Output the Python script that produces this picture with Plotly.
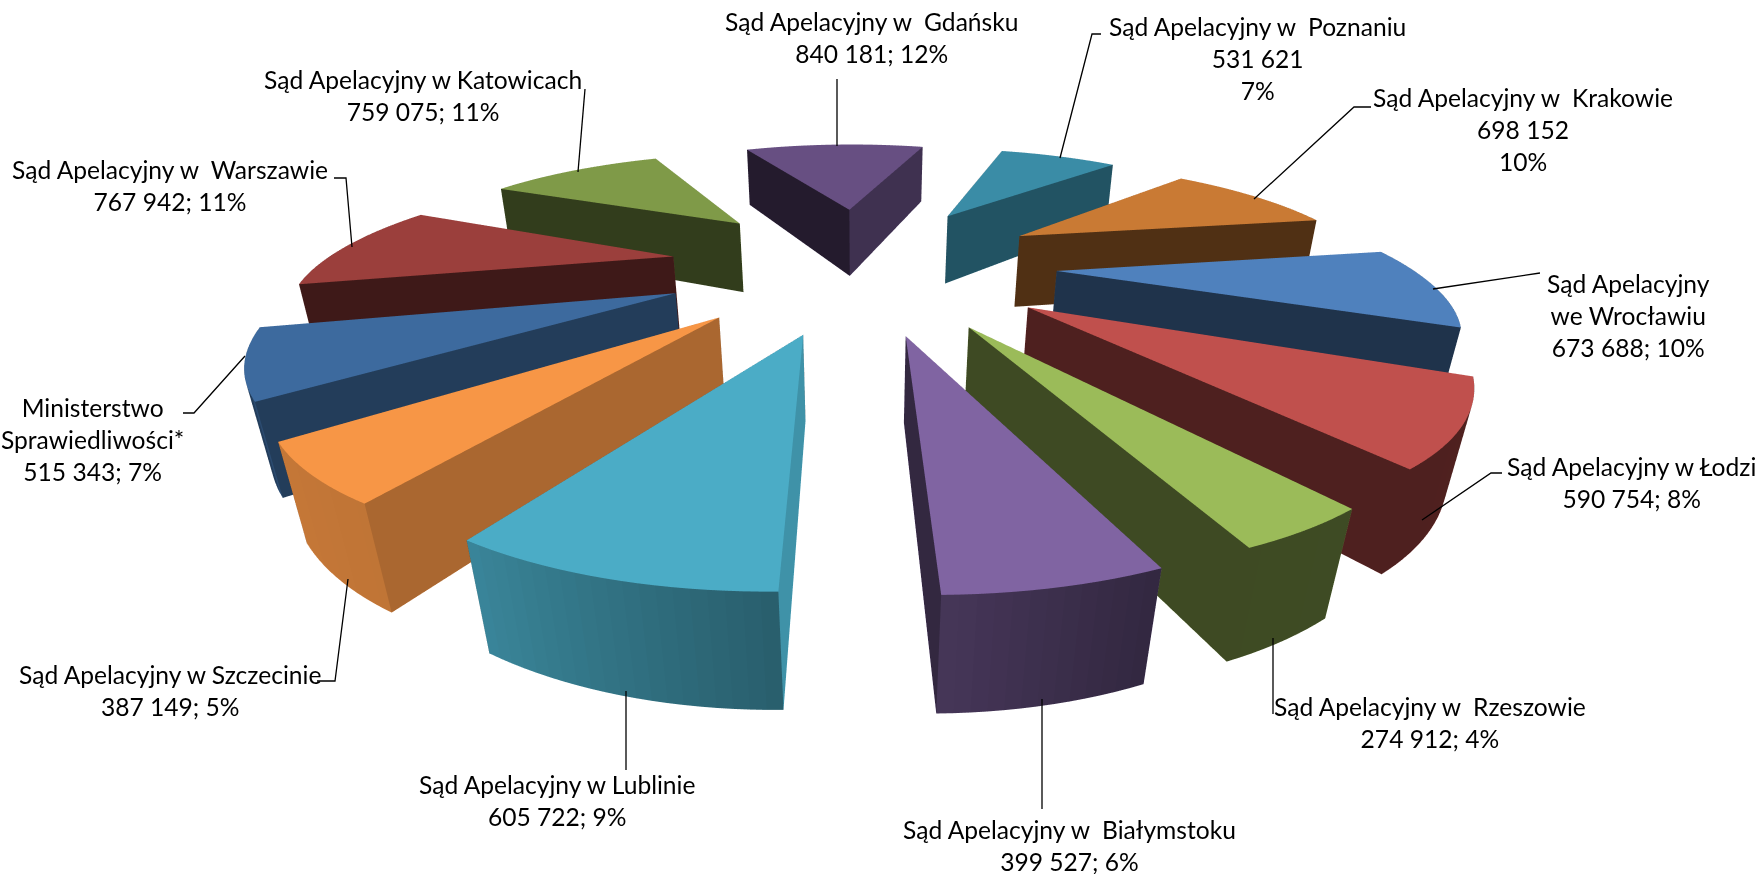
import math
import numpy as np
import plotly.graph_objects as go

names = ["Sąd Apelacyjny w  Gdańsku", "Sąd Apelacyjny w  Poznaniu", "Sąd Apelacyjny w  Krakowie",
         "Sąd Apelacyjny<br>we Wrocławiu", "Sąd Apelacyjny w Łodzi", "Sąd Apelacyjny w  Rzeszowie",
         "Sąd Apelacyjny w  Białymstoku", "Sąd Apelacyjny w Lublinie", "Sąd Apelacyjny w Szczecinie",
         "Ministerstwo<br>Sprawiedliwości*", "Sąd Apelacyjny w  Warszawie", "Sąd Apelacyjny w Katowicach"]
values = [840181, 531621, 698152, 673688, 590754, 274912, 399527, 605722, 387149, 515343, 767942, 759075]
value_text = ["840 181; 12%", "531 621<br>7%", "698 152<br>10%", "673 688; 10%", "590 754; 8%", "274 912; 4%",
              "399 527; 6%", "605 722; 9%", "387 149; 5%", "515 343; 7%", "767 942; 11%", "759 075; 11%"]
colors = ["#674f82", "#3a8ca6", "#c97a34", "#4f81bd", "#c0504d", "#9bbb59",
          "#8064a2", "#4bacc6", "#f79646", "#3d6a9e", "#9b3f3c", "#7f9a48"]
label_xy = [(871, 38), (1257, 58), (1523, 130), (1628, 315), (1631, 482), (1430, 722),
            (1069, 845), (557, 800), (170, 690), (92, 439), (170, 186), (423, 96)]
leaders = [[(837, 79), (837, 146)], [(1101, 34), (1092, 34), (1060, 158)], [(1371, 107), (1354, 107), (1254, 199)],
           [(1540, 273), (1433, 289)], [(1502, 473), (1491, 473), (1422, 520)], [(1273, 638), (1273, 714)],
           [(1042, 699), (1042, 809)], [(626, 691), (626, 770)], [(317, 681), (335, 681), (348, 579)],
           [(183, 413), (194, 413), (245, 356)], [(334, 178), (346, 178), (352, 247)], [(585, 89), (578, 172)]]

START = -25.0
EXPLODE = 0.55
THICK = 0.22
RAD_A = [0, 90, 108, 121, 135, 140, 167, 206, 235, 245, 249, 270, 360]
RAD_V = [.6, .85, .62, .69, .6, .58, .4, .4, .41, .35, .4, .4, .6]
OUT_A = [0, 80, 115, 160, 180, 211, 231, 232, 257, 296, 360]
OUT_V = [.6, .4, .42, .4, .55, .78, .8, .58, .58, .5, .6]


def shade(hexc, f):
    r, g, b = (int(hexc[i:i + 2], 16) for i in (1, 3, 5))
    return f"rgb({int(r * f)},{int(g * f)},{int(b * f)})"


def wedge(a0, a1, col):
    mid = math.radians((a0 + a1) / 2)
    cx, cy = EXPLODE * math.sin(mid), EXPLODE * math.cos(mid)
    n = max(4, int((a1 - a0) / 1.5))
    ang = np.linspace(a0, a1, n + 1)
    xs, ys, zs, I, J, K, fc = [cx, cx], [cy, cy], [0, -THICK], [], [], [], []
    for a in ang:
        xs += [cx + math.sin(math.radians(a))] * 2
        ys += [cy + math.cos(math.radians(a))] * 2
        zs += [0, -THICK]
    for s in range(n):
        t0, b0, t1, b1 = 2 + 2 * s, 3 + 2 * s, 4 + 2 * s, 5 + 2 * s
        I += [0, 1]; J += [t0, b0]; K += [t1, b1]; fc += [col, col]
        c = shade(col, float(np.interp(((ang[s] + ang[s + 1]) / 2) % 360, OUT_A, OUT_V)))
        I += [t0, t1]; J += [b0, b0]; K += [t1, b1]; fc += [c, c]
    ca = shade(col, float(np.interp((a0 - 90) % 360, RAD_A, RAD_V)))
    cb = shade(col, float(np.interp((a1 + 90) % 360, RAD_A, RAD_V)))
    e0, e1 = 2, 2 + 2 * n
    I += [0, 1, 0, 1]; J += [1, e0, 1, e1]; K += [e0, e0 + 1, e1, e1 + 1]; fc += [ca, ca, cb, cb]
    return go.Mesh3d(x=xs, y=ys, z=zs, i=I, j=J, k=K, facecolor=fc, flatshading=True,
                     lighting=dict(ambient=1, diffuse=0, specular=0, roughness=1, fresnel=0),
                     hoverinfo="skip", showscale=False)


total = sum(values)
fig = go.Figure()
a = START
for v, c in zip(values, colors):
    b = a + 360 * v / total
    fig.add_trace(wedge(a, b, c))
    a = b

W, H = 1762, 874
for name, vt, (x, y) in zip(names, value_text, label_xy):
    fig.add_annotation(x=x / W, y=1 - y / H, xref="paper", yref="paper", xanchor="center", yanchor="middle",
                       showarrow=False, text=name + "<br>" + vt, font=dict(family="Lato", size=24.6, color="#000"))
for pts in leaders:
    p = "M" + " L".join(f"{x / W} {1 - y / H}" for x, y in pts)
    fig.add_shape(type="path", path=p, xref="paper", yref="paper", line=dict(color="#000", width=1.3), layer="above")

ax = dict(visible=False, range=[-2, 2], autorange=False)
fig.update_layout(
    width=W, height=H, margin=dict(l=0, r=0, t=0, b=0), paper_bgcolor="#fff", showlegend=False,
    scene=dict(domain=dict(x=[0, 0.978], y=[0, 1]), xaxis=ax, yaxis=ax,
               zaxis=dict(visible=False, range=[-1, 1], autorange=False),
               aspectmode="manual", aspectratio=dict(x=0.955, y=1, z=0.5),
               camera=dict(projection=dict(type="perspective"), up=dict(x=0, y=0, z=1),
                           center=dict(x=0, y=0, z=-0.1335), eye=dict(x=-0.008, y=-0.695, z=0.222))),
)
fig.write_html("out.html", config=dict(displayModeBar=False), post_script="document.body.style.margin='0';")
